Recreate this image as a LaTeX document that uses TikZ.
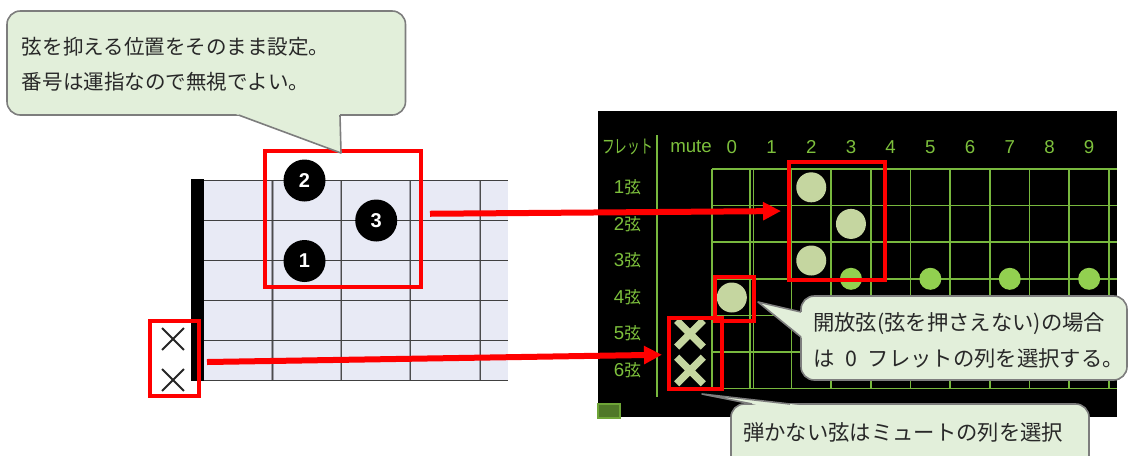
\documentclass[tikz,border=0pt]{standalone}
\usepackage{graphicx}
\usepackage{fontspec}
\setmainfont{Liberation Sans}
\newfontfamily\jpfont{Noto Sans CJK JP}
\usetikzlibrary{arrows.meta,fit,shapes.misc,calc}

\definecolor{markred}{RGB}{255,0,0}
\definecolor{calloutfill}{RGB}{226,239,218}
\definecolor{calloutline}{RGB}{125,125,125}
\definecolor{callouttext}{RGB}{40,40,40}
\definecolor{boardbg}{RGB}{232,234,245}
\definecolor{fretgray}{RGB}{160,160,170}
\definecolor{gridgreen}{RGB}{120,184,62}
\definecolor{labelgreen}{RGB}{125,192,60}
\definecolor{pale}{RGB}{197,214,160}
\definecolor{dotgreen}{RGB}{146,208,80}
\definecolor{cornergreen}{RGB}{79,120,40}
\definecolor{cornerline}{RGB}{110,165,55}

% CJK part of a panel label
\newcommand{\jpc}[1]{{\jpfont\fontsize{12.5}{12.5}\selectfont #1}}

\tikzset{
  redbox/.style={draw=markred, line width=3pt, inner sep=0pt, rectangle},
  redarrow/.style={draw=markred, line width=4.5pt, -{Triangle[length=13.5pt,width=13pt]}},
  finger/.style={circle, fill=black, text=white, minimum size=31.5pt, inner sep=0pt,
    font=\bfseries\fontsize{15}{15}\selectfont},
  openx/.style={draw=black!85, cross out, minimum size=15pt, line width=1.4pt, inner sep=0pt},
  mutex/.style={draw=pale, cross out, minimum size=14.5pt, line width=5.5pt, inner sep=0pt},
  pressed/.style={circle, fill=pale, minimum size=22.5pt, inner sep=0pt},
  marker/.style={circle, fill=dotgreen, minimum size=16.5pt, inner sep=0pt},
  lbl/.style={text=labelgreen, inner sep=0pt, font=\fontsize{14}{14}\selectfont},
  gridline/.style={draw=gridgreen, line width=1.3pt},
  callbox/.style={rectangle, rounded corners=10pt, fill=calloutfill, draw=calloutline,
    line width=1.2pt, inner sep=0pt},
  calltail/.style={draw=calloutline, line width=1.2pt, line join=round},
  calltext/.style={text=callouttext, inner sep=0pt, align=left, anchor=west,
    font=\jpfont\fontsize{16}{27}\selectfont},
}

\begin{document}
\begin{tikzpicture}[x=0.75pt,y=-0.75pt]
\useasboundingbox (0,0) rectangle (1128,455);
\clip (0,0) rectangle (1128,455);

% ---------- chord chart ----------
\fill[boardbg] (204,180) rectangle (508,381);
\foreach \x in {272.7,341,410,480} {
  \draw[fretgray, line width=2pt] (\x,180) -- (\x,381);
  \draw[black!70, line width=0.6pt] (\x,180) -- (\x,381);
}
\foreach \k in {0,...,5}
  \draw[black!75, line width=1.4pt] (204,{180.5+40*\k}) -- (508,{180.5+40*\k});
\fill[black] (190.7,179.3) rectangle (204,380.7);

\node[finger] (f2) at (304.5,180.5) {2};
\node[finger] (f3) at (376.2,220.5) {3};
\node[finger] (f1) at (304.5,261) {1};

\node[openx] (x5) at (173,339) {};
\node[openx] (x6) at (173,380) {};

% ---------- fret selector panel ----------
\fill[black] (598,111) rectangle (1117,417);
\fill[cornergreen, draw=cornerline, line width=0.8pt] (598,404) rectangle (620,418);

\draw[gridline] (657,135) -- (657,397);
\foreach \k in {0,2,3,...,10}
  \draw[gridline] ({712+39.7*\k},169) -- ({712+39.7*\k},388.6);
\draw[gridline] (750.2,169) -- (750.2,388.6);
\draw[gridline] (753.6,169) -- (753.6,388.6);
\foreach \r in {0,...,6}
  \draw[gridline] (712,{169+36.6*\r}) -- (1117,{169+36.6*\r});

\node[lbl] (hfret) at (627.5,147)
  {\scalebox{0.68}[1]{\jpfont\fontsize{14}{14}\selectfont フレット}};
\node[lbl] (hmute) at (691,147) {mute};
\foreach \k in {0,...,9}
  \node[lbl] (h\k) at ({712+39.7*(\k+0.5)},147) {\k};
\foreach \k in {1,...,6}
  \node[lbl] (s\k) at (627.5,{150.6+36.6*\k}) {\k\jpc{弦}};

\foreach \k in {3,5,7,9}
  \node[marker] (m\k) at ({712+39.7*(\k+0.5)},278.8) {};

\node[pressed] (p1) at (811.25,187.3) {};
\node[pressed] (p2) at (850.95,223.9) {};
\node[pressed] (p3) at (811.25,260.5) {};
\node[pressed] (p4) at (731.85,297.5) {};

\node[mutex] (mx5) at (690,333.7) {};
\node[mutex] (mx6) at (690,370.5) {};

% ---------- highlight boxes ----------
\node[redbox, fit={(265,151.3) (421,287)}] (bA) {};
\node[redbox, fit={(149.5,321) (198.8,396)}] (bB) {};
\node[redbox, fit={(788.7,161.5) (884.5,280)}] (pb1) {};
\node[redbox, fit={(714.5,277) (754,321)}] (pb2) {};
\node[redbox, fit={(668.5,317.5) (721.5,389)}] (pb3) {};

% ---------- arrows ----------
\draw[redarrow] ($(bA.east)+(7,-5.4)$) -- ($(pb1.west)+(-5.7,-9.7)$);
\draw[redarrow] ($(bB.east)+(6.2,3.5)$) -- ($(pb3.west)+(-4.5,1.5)$);

% ---------- callouts ----------
\node[callbox, fit={(7,11) (405.5,115)}] (c1box) {};
\fill[calloutfill] (231.8,112.5) -- (341,153) -- (339.9,112.5) -- cycle;
\draw[calltail] (238.5,115) -- (341,153) -- (340,115);
\node[calltext, font=\jpfont\fontsize{15.4}{26.25}\selectfont] (c1t) at (21.7,64.2)
  {弦を抑える位置をそのまま設定。\\番号は運指なので無視でよい。};

\node[callbox, fit={(801,296) (1127,380)}] (c2box) {};
\fill[calloutfill] (803.5,312.6) -- (758,302) -- (803.5,339) -- cycle;
\draw[calltail] (801,312) -- (758,302) -- (801,337);
\node[calltext] (c2t) at (813,340)
  {開放弦(弦を押さえない)の場合\\は\enspace 0\enspace フレットの列を選択する。};

\node[callbox, fit={(731,404) (1089,470)}] (c3box) {};
\fill[calloutfill] (764.5,406.5) -- (702,394) -- (812,406.5) -- cycle;
\draw[calltail] (752,404) -- (702,394) -- (790,404);
\node[calltext] (c3t) at (743,432) {弾かない弦はミュートの列を選択};
\end{tikzpicture}
\end{document}
